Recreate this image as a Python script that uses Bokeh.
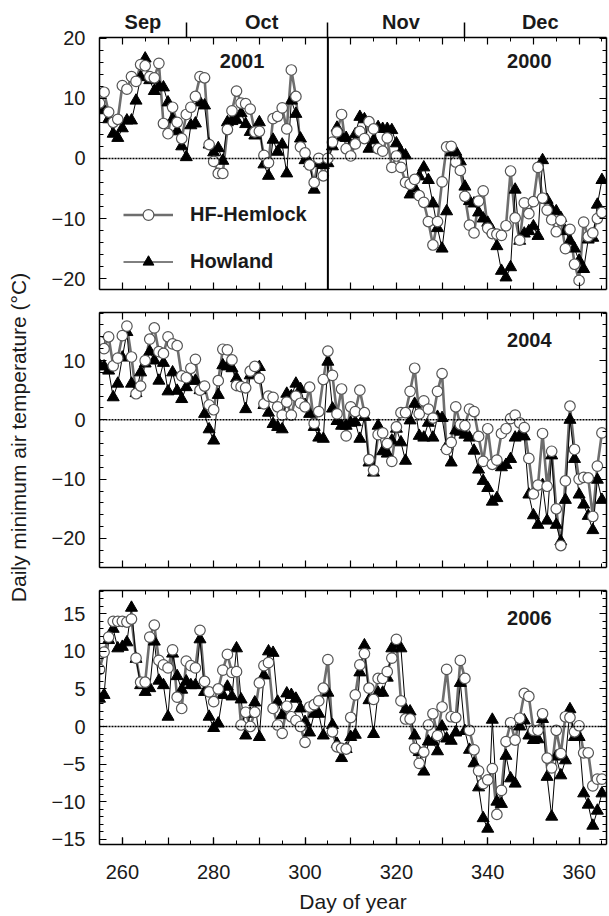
import math
from bokeh.plotting import figure
from bokeh.models import (Range1d, LinearAxis, FixedTicker, Span, Label, Legend,
                          LegendItem, ColumnDataSource)
from bokeh.layouts import column, row
from bokeh.embed import file_html
from bokeh.resources import INLINE

# ---------------- data ----------------
DAYS = list(range(255, 366))

HEM_TOP = [9.2, 11.0, 7.7, 6.0, 6.5, 12.1, 11.5, 13.6, 12.8, 15.6, 15.4, 13.6, 13.4, 15.8, 5.8, 4.1, 8.5, 6.0, 3.3, 7.3,
           8.5, 10.3, 13.6, 13.4, 2.3, -0.5, -2.5, -2.5, 4.8, 7.9, 11.2, 9.2, 9.1, 8.2, 4.4, 4.5, 0.5, -0.7, 6.6, 7.0,
           8.4, 4.9, 14.7, 10.3, 1.9, 0.9, -1.1, -4.0, 0.0, -2.9, 0.0, 2.7, 4.4, 7.3, 1.6, 0.4, 2.4, 4.5, 3.3, 6.1,
           4.9, 1.6, 1.2, 3.4, -1.5, 0.4, -1.5, -4.0, -4.3, -3.5, -6.2, -7.3, -10.5, -14.4, -10.5, -3.9, 1.9, 2.0, -0.6, -2.0,
           -6.3, -11.1, -12.4, -7.1, -5.4, -11.6, -12.5, -12.6, -12.8, -11.2, -2.1, -9.9, -13.6, -7.4, -9.2, -7.2, -1.5, -6.6, -8.6, -10.2,
           -12.2, -10.3, -15.0, -11.8, -17.6, -20.3, -10.6, -13.0, -12.4, -10.0, -9.0]
HOW_TOP = [8.5, 8.0, 6.5, 4.1, 3.4, 5.0, 6.3, 6.3, 9.6, 13.5, 16.6, 13.0, 11.2, 12.0, 11.8, 9.3, 6.5, 4.5, 2.0, 0.2,
           5.5, 5.8, 9.3, 8.8, 2.3, 1.0, 1.7, -0.4, 6.0, 6.2, 6.4, 7.5, 5.7, 4.4, 3.8, 6.0, -1.0, -2.9, 3.1, 1.1,
           2.3, -2.5, 9.6, 7.4, 3.3, -0.3, -0.8, -5.2, -0.8, -1.1, -0.8, 2.0, 5.1, 3.5, 3.4, 2.2, 4.0, 6.9, 6.5, 1.6,
           3.0, 5.2, 4.9, 4.9, 4.7, 2.5, 1.1, 0.5, -6.0, -5.0, -3.0, -1.5, -3.6, -7.5, -11.6, -15.0, -8.8, 1.0, 1.1, -0.5,
           -4.7, -7.1, -7.5, -9.0, -10.0, -10.7, -12.0, -14.6, -18.7, -19.8, -18.1, -5.2, -13.7, -12.5, -12.1, -11.3, -12.9, -0.3, -6.9, -8.5,
           -8.8, -9.9, -12.1, -13.7, -15.0, -17.0, -18.4, -13.5, -13.2, -7.7, -3.6]

HEM_MID = [13.2, 12.0, 14.0, 9.1, 10.4, 14.2, 15.8, 10.6, 4.4, 5.7, 10.0, 13.6, 15.5, 11.5, 11.2, 14.0, 12.8, 12.5, 7.4, 7.1,
           8.7, 10.2, 5.0, 5.7, 2.5, 1.7, 6.6, 11.9, 11.8, 10.1, 5.8, 5.6, 5.4, 8.2, 9.0, 7.0, 2.7, 4.0, 3.8, 2.2,
           0.8, 3.0, 0.8, 4.0, 2.8, 2.2, 5.5, -0.6, 1.4, 6.8, 11.6, 7.5, 1.0, 5.2, -2.7, 2.2, 1.4, 5.0, 1.2, -6.7,
           -8.5, -2.5, -2.2, -4.0, -7.0, -1.2, 1.2, 1.2, 4.8, 8.7, 1.0, 3.2, 1.8, 0.3, 4.8, 7.8, -5.0, -3.8, 2.2, -0.8,
           -1.0, 1.8, 1.4, -2.8, -7.0, -1.5, -7.5, -6.8, -2.3, -1.5, 0.2, 0.8, -0.5, -1.3, -6.5, -12.5, -11.0, -2.3, -11.2, -5.3,
           -15.0, -21.2, -10.3, 2.3, -5.0, -10.0, -9.7, -9.8, -16.3, -7.8, -2.2]
HOW_MID = [9.2, 9.0, 8.3, 3.8, 6.1, 10.5, 14.8, 6.1, 4.5, 8.0, 9.5, 11.5, 10.0, 6.6, 9.6, 4.8, 8.0, 4.9, 3.5, 5.5,
           6.6, 6.6, 5.0, 1.0, -1.6, -3.5, 4.2, 9.2, 9.0, 8.7, 7.0, 5.5, 1.8, 7.5, 8.3, 8.9, 2.5, 1.2, -0.7, -1.2,
           -1.6, 4.4, 4.0, 6.1, 5.2, 2.5, 1.0, -1.2, -3.0, -3.2, 9.8, 1.9, -0.2, -1.0, -1.0, -0.5, -0.4, -3.2, 0.5, -7.2,
           -8.9, -1.0, -5.3, -5.7, -3.5, -1.5, -3.8, -6.9, -0.1, 2.7, -2.7, -3.0, -0.5, -3.0, 0.5, 0.3, -4.5, -7.2, -1.8, -2.0,
           -2.5, -3.0, -5.2, -8.4, -10.3, -11.5, -13.8, -13.2, -8.0, -7.6, -6.6, -3.0, -2.7, -2.8, -12.6, -16.1, -17.7, -11.0, -17.0, -6.0,
           -17.7, -20.5, -13.5, 0.0, -6.6, -12.6, -14.3, -16.2, -18.6, -10.1, -13.5]

HEM_BOT = [7.6, 9.9, 11.9, 14.0, 14.0, 14.0, 13.9, 14.3, 9.1, 5.9, 5.9, 11.9, 13.5, 8.8, 8.2, 7.8, 10.2, 3.9, 2.4, 8.7,
           8.1, 7.8, 12.8, 6.0, 4.6, 3.3, 5.0, 7.5, 9.6, 7.2, 7.3, 0.2, 1.9, 0.0, 1.9, 5.8, 8.1, 8.5, 2.4, 0.2,
           -0.9, 2.7, 1.3, 0.8, 0.0, -2.1, 2.6, 2.9, 3.4, 5.1, 8.9, -0.7, -2.7, -2.9, -3.0, 1.2, 4.2, 8.2, 9.7, 5.1,
           3.6, 6.4, 6.4, 7.3, 9.1, 11.6, 3.4, 1.0, 1.0, -2.9, -4.9, -3.4, 0.2, 1.7, -1.2, 2.6, 7.6, 1.3, 1.2, 8.8,
           6.4, -0.5, -3.1, -5.9, -7.6, -7.1, -5.6, -11.7, -8.5, -2.0, 0.5, -1.8, 1.1, 4.4, 4.0, -0.5, -0.5, 1.7, -4.2, -5.5,
           -0.5, -3.6, 1.3, 1.2, -0.7, 0.1, -3.5, -3.5, -7.9, -7.0, -7.0]
HOW_BOT = [3.7, 4.2, 11.5, 13.0, 10.4, 10.6, 11.2, 15.8, 9.0, 5.5, 4.6, 5.1, 11.3, 6.1, 5.5, 1.3, 9.7, 6.7, 4.9, 6.0,
           5.5, 5.5, 11.6, 4.6, 1.3, -0.2, 0.4, 4.2, 5.3, 4.0, 10.4, 3.6, -1.2, 1.7, 3.2, -1.4, 6.8, 10.0, 9.8, 3.3,
           1.5, 4.4, 4.2, 3.7, 2.4, 0.6, -0.8, 1.7, 1.7, -1.2, 4.5, 0.2, -2.3, -4.2, -3.0, -1.4, -1.1, 7.2, 10.8, 3.5,
           -1.0, 4.5, 4.5, 6.5, 10.4, 11.0, 10.4, 2.3, 2.0, -1.2, -3.4, -6.0, -2.0, -2.0, -3.3, 0.0, -1.6, -1.9, -0.8, 5.8,
           -0.6, -3.1, -4.9, -8.1, -12.2, -13.6, 0.9, -10.0, -10.3, -3.9, -6.9, -7.6, 0.0, 0.8, -1.2, -1.8, -1.7, 1.0, -6.7, -12.0,
           -4.0, -6.5, -4.5, 2.3, -1.4, -1.4, -8.9, -10.4, -13.2, -11.2, -8.9]

X_LABELED = [260, 280, 300, 320, 340, 360]
X_LONG = [260, 270, 280, 290, 300, 310, 320, 330, 340, 350, 360]
X_SHORT = list(range(255, 370, 5))
MONTH_BOUNDS = [274, 305, 335]
MONTHS = ["Sep", "Oct", "Nov", "Dec"]
MONTH_CENTERS = [264.5, 290.5, 321.0, 351.5]
SERIES = ["HF-Hemlock", "Howland"]
YLABEL = "Daily minimum air temperature (\u00b0C)"
XLABEL = "Day of year"
MINUS = {-20: "\u221220", -10: "\u221210", -15: "\u221215", -5: "\u22125"}

FONT = "Liberation Sans"
HEM_COLOR = "#6e6e6e"
TXT = "#1a1a1a"
LEFT_W = 40
TOTAL_H = 915


def tick_only_axis(long_ticks, short_ticks):
    """Axis without labels: two stacked tick-only axes (long + short ticks)."""
    axes = []
    for ticks, ln, line in ((long_ticks, 7, True), (short_ticks, 4, False)):
        ax = LinearAxis(ticker=FixedTicker(ticks=[], minor_ticks=ticks))
        ax.major_tick_in = 0
        ax.major_tick_out = 0
        ax.minor_tick_in = ln
        ax.minor_tick_out = 0
        ax.minor_tick_line_width = 1.2 if ln == 7 else 1
        ax.minor_tick_line_color = "black"
        ax.major_label_standoff = 0
        ax.axis_line_color = "black" if line else None
        ax.axis_line_width = 1.5
        axes.append(ax)
    return axes


def label_axis(ax, major, minor, overrides=None, standoff=14):
    ax.ticker = FixedTicker(ticks=major, minor_ticks=minor)
    ax.axis_line_width = 1.5
    ax.axis_line_color = "black"
    ax.major_tick_in = 7
    ax.major_tick_out = 0
    ax.minor_tick_in = 4
    ax.minor_tick_out = 0
    ax.major_tick_line_width = 1.2
    ax.minor_tick_line_width = 1
    ax.major_tick_line_color = "black"
    ax.minor_tick_line_color = "black"
    ax.major_label_text_font = FONT
    ax.major_label_text_font_size = "20px"
    ax.major_label_text_color = TXT
    ax.major_label_standoff = standoff
    if overrides:
        ax.major_label_overrides = overrides


def panel(height, btop, bbot, yr, ymaj, ymin, hem, how, year, year_pos,
          xlabels=False, months=False):
    p = figure(width=609 - LEFT_W, height=height, output_backend="svg", toolbar_location=None,
               title=None, x_range=Range1d(255, 366), y_range=Range1d(*yr),
               x_axis_location=None, y_axis_location=None,
               min_border_left=99 - LEFT_W, min_border_right=3, min_border_top=btop,
               min_border_bottom=bbot)
    p.grid.visible = False
    p.outline_line_color = None
    p.background_fill_color = "white"
    p.border_fill_color = "white"

    ya = LinearAxis()
    label_axis(ya, ymaj, ymin, overrides=MINUS, standoff=14)
    p.add_layout(ya, "left")

    for ax in tick_only_axis(ymaj, ymin):
        p.add_layout(ax, "right")
    for ax in tick_only_axis(X_LONG, X_SHORT):
        p.add_layout(ax, "above")

    if xlabels:
        inner = LinearAxis(ticker=FixedTicker(ticks=[], minor_ticks=X_LONG))
        inner.major_tick_in = 0
        inner.major_tick_out = 0
        inner.minor_tick_in = 7
        inner.minor_tick_out = 0
        inner.minor_tick_line_width = 1.2
        inner.minor_tick_line_color = "black"
        inner.major_label_standoff = 0
        inner.axis_line_color = None
        p.add_layout(inner, "below")
        xa = LinearAxis()
        label_axis(xa, X_LABELED, X_SHORT, standoff=20)
        xa.axis_label = XLABEL
        xa.axis_label_text_font = FONT
        xa.axis_label_text_font_size = "21px"
        xa.axis_label_text_font_style = "normal"
        xa.axis_label_text_color = TXT
        xa.axis_label_standoff = 8
        p.add_layout(xa, "below")
    else:
        for ax in tick_only_axis(X_LONG, X_SHORT):
            p.add_layout(ax, "below")

    if months:
        ma = LinearAxis(ticker=FixedTicker(ticks=MONTH_CENTERS, minor_ticks=MONTH_BOUNDS))
        ma.axis_line_color = None
        ma.major_tick_in = 0
        ma.major_tick_out = 0
        ma.minor_tick_in = 0
        ma.minor_tick_out = 15
        ma.minor_tick_line_width = 1.5
        ma.minor_tick_line_color = "black"
        ma.major_label_overrides = dict(zip(MONTH_CENTERS, MONTHS))
        ma.major_label_text_font = FONT
        ma.major_label_text_font_size = "20px"
        ma.major_label_text_font_style = "bold"
        ma.major_label_text_color = TXT
        ma.major_label_standoff = -10
        p.add_layout(ma, "above")

    p.add_layout(Span(location=0, dimension="width", line_color="black",
                      line_width=1.5, line_dash="2 1"))

    src = ColumnDataSource(dict(day=DAYS, hem=hem, how=how))
    hl = p.line("day", "hem", source=src, line_color=HEM_COLOR, line_width=2.6)
    bl = p.line("day", "how", source=src, line_color="black", line_width=1)
    bt = p.scatter("day", "how", source=src, marker="triangle", size=12,
                   fill_color="black", line_color="black")
    hc = p.scatter("day", "hem", source=src, marker="circle", size=10.5,
                   fill_color="white", line_color="#555555", line_width=1.2)

    for yl, (yx, yy) in zip(year, year_pos):
        p.add_layout(Label(x=yx, y=yy, text=yl, text_font=FONT, text_font_size="20px",
                           text_font_style="bold", text_color=TXT,
                           text_align="center", text_baseline="middle"))
    return p, (hl, hc, bl, bt)


p1, r1 = panel(300, 37, 11, (-21.8, 20.1), [-20, -10, 0, 10, 20], list(range(-20, 21, 2)),
               HEM_TOP, HOW_TOP, ["2001", "2000"], [(286.2, 16.2), (349.1, 16.2)], months=True)
p1.add_layout(Span(location=305, dimension="height", line_color="black", line_width=2))
legend = Legend(items=[LegendItem(label=SERIES[0], renderers=[r1[0], r1[1]]),
                       LegendItem(label=SERIES[1], renderers=[r1[2], r1[3]])],
                location=(24, 14), glyph_width=50, glyph_height=27, label_height=27,
                spacing=20, padding=0, margin=0, label_standoff=17,
                label_text_font=FONT, label_text_font_size="20px",
                label_text_font_style="bold", label_text_color=TXT,
                border_line_alpha=0, background_fill_alpha=0)
p1.add_layout(legend)

p2, _ = panel(278, 12, 11, (-24.9, 18.1), [-20, -10, 0, 10], list(range(-24, 19, 2)),
              HEM_MID, HOW_MID, ["2004"], [(349.1, 13.5)])

p3, _ = panel(337, 12, 70, (-15.7, 18.1), [-15, -10, -5, 0, 5, 10, 15], list(range(-15, 19, 1)),
              HEM_BOT, HOW_BOT, ["2006"], [(349.1, 14.5)], xlabels=True)

p0 = figure(width=LEFT_W, height=TOTAL_H, output_backend="svg", toolbar_location=None,
            title=None, x_range=Range1d(0, LEFT_W), y_range=Range1d(0, TOTAL_H),
            x_axis_location=None, y_axis_location=None, min_border=0)
p0.grid.visible = False
p0.outline_line_color = None
p0.add_layout(Label(x=18, y=TOTAL_H - 437, text=YLABEL, angle=math.pi / 2,
                    text_font=FONT, text_font_size="21px", text_color=TXT,
                    text_align="center", text_baseline="middle"))

layout = row(p0, column(p1, p2, p3, spacing=0), spacing=0)
open("out.html", "w").write(file_html(layout, INLINE))
